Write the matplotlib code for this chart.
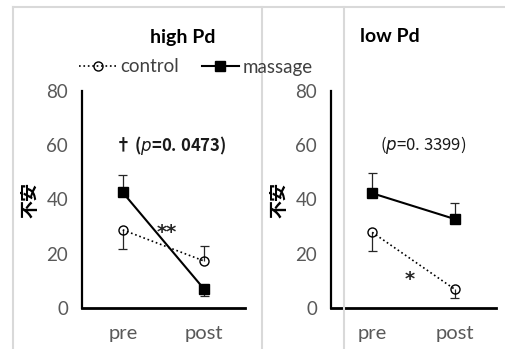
import numpy as np
import matplotlib.pyplot as plt
from matplotlib.lines import Line2D

plt.rcParams['font.family'] = ['Lato', 'DejaVu Sans']

# data
groups = ['pre', 'post']
titles = ['high Pd', 'low Pd']
control = [[28.8, 17.3], [27.9, 6.9]]
massage = [[42.6, 6.9], [42.3, 32.8]]
# error bars: (down, up) for each point
control_err = [([7.1, 0.0], [0.0, 5.4]), ([6.9, 3.3], [0.0, 0.0])]
massage_err = [([0.0, 2.5], [6.4, 0.0]), ([0.0, 0.0], [7.3, 5.8])]
p_texts = [r'† ($\it{p}$=0. 0473)', r'($\it{p}$=0. 3399)']
stars = ['**', '*']
star_pos = [(0.54, 28.0), (0.45, 10.5)]
yticks = [0, 20, 40, 60, 80]

W, H = 505, 349
fig = plt.figure(figsize=(W / 100, H / 100), dpi=100)

# gray chart borders
grey = '#d9d9d9'
for (x0, y0, x1, y1) in [(13, 7, 505, 7), (13, 7, 13, 349), (262, 7, 262, 349), (344, 7, 344, 349)]:
    fig.add_artist(Line2D([x0 / W, x1 / W], [1 - y0 / H, 1 - y1 / H], color=grey, lw=1.5))

axes_px = [(82, 245), (331, 496)]
tick_col = '#595959'


def draw_err(ax, y, down, up):
    x = np.arange(len(y))
    for xi, yi, d, u in zip(x, y, down, up):
        for e in (-d, u):
            if e != 0:
                ax.vlines(xi, yi, yi + e, color='#262626', lw=0.9, zorder=2)
                ax.hlines(yi + e, xi - 0.055, xi + 0.055, color='#262626', lw=0.9, zorder=2)


for i in range(2):
    x0, x1 = axes_px[i]
    ax = fig.add_axes([x0 / W, 1 - 308 / H, (x1 - x0) / W, 217 / H])
    x = np.arange(len(groups))
    draw_err(ax, control[i], *control_err[i])
    draw_err(ax, massage[i], *massage_err[i])
    ax.plot(x, control[i], color='k', ls=':', lw=1.2, marker='o', ms=6.5,
            mfc='none', mec='k', mew=1.0, zorder=3, label='control')
    ax.plot(x, massage[i], color='k', ls='-', lw=1.5, marker='s', ms=7,
            mfc='k', mec='k', zorder=3, label='massage')
    ax.set_xlim(-0.5, 1.5)
    ax.set_ylim(0, 80)
    ax.set_yticks(yticks)
    ax.set_xticks(x)
    ax.set_xticklabels(groups)
    ax.tick_params(axis='y', length=0, pad=10, labelsize=13.5, labelcolor=tick_col)
    ax.tick_params(axis='x', length=0, pad=12, labelsize=14.5, labelcolor=tick_col)
    for s in ['top', 'right']:
        ax.spines[s].set_visible(False)
    ax.spines['left'].set_linewidth(1.6)
    ax.spines['bottom'].set_linewidth(2.0)
    ax.patch.set_alpha(0)

    ax.text(0.62 if i else 0.58, 60, p_texts[i], ha='center', va='center',
            fontsize=12, fontweight='bold' if i == 0 else 'normal',
            family=['Noto Sans CJK JP', 'DejaVu Sans'], color='#1a1a1a')
    ax.text(star_pos[i][0], star_pos[i][1], stars[i], ha='center', va='center',
            fontsize=14, fontweight='bold', family=['DejaVu Sans'], color='#262626')

    # y label
    ax.text(-0.318, 0.5, '不安', rotation=90, ha='center', va='center',
            fontsize=13, fontweight='bold', family=['Noto Sans CJK JP'],
            transform=ax.transAxes)

fig.text(183 / W, 1 - 37 / H, titles[0], ha='center', va='center', fontsize=14, fontweight='bold')
fig.text(390 / W, 1 - 37 / H, titles[1], ha='center', va='center', fontsize=14, fontweight='bold')

handles = [Line2D([], [], color='k', ls=':', lw=1.2, marker='o', ms=6.5, mfc='none', mew=1.0),
           Line2D([], [], color='k', ls='-', lw=1.5, marker='s', ms=7)]
fig.legend(handles, ['control', 'massage'], loc='center', bbox_to_anchor=(196 / W, 1 - 67 / H),
           ncol=2, frameon=False, fontsize=13.5, handlelength=2.0, handletextpad=0.2,
           columnspacing=1.2, labelcolor='#404040', borderpad=0, borderaxespad=0)

fig.savefig('out.png', dpi=100)
